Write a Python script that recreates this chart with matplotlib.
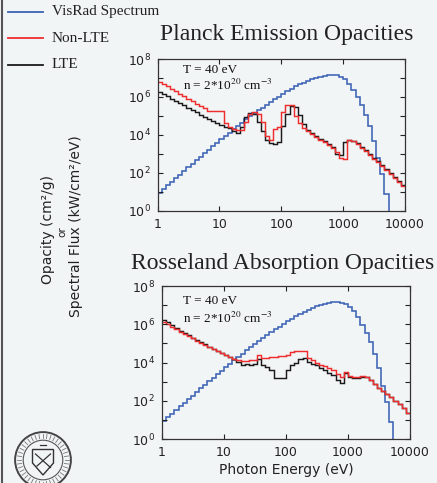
import numpy as np
import matplotlib
matplotlib.use("Agg")
import matplotlib.pyplot as plt
from matplotlib.patches import Circle, Polygon
from matplotlib.lines import Line2D
from matplotlib.ticker import FixedLocator, FuncFormatter, NullLocator

# ---------------- data (log10 values per energy bin, 15 bins per decade, 1 eV - 10 keV)
log_energy_edges = np.linspace(0.0, 4.0, 61)

# VisRad spectrum (log10 spectral flux)
visrad_log = [0.95, 1.14, 1.33, 1.52, 1.71, 1.90, 2.09, 2.28, 2.47, 2.66,
              2.85, 3.04, 3.22, 3.40, 3.58, 3.76, 3.94, 4.12, 4.30, 4.47,
              4.64, 4.81, 4.97, 5.13, 5.29, 5.44, 5.59, 5.74, 5.88, 6.02,
              6.16, 6.30, 6.43, 6.55, 6.66, 6.76, 6.85, 6.93, 7.00, 7.06,
              7.11, 7.14, 7.15, 7.13, 7.06, 6.92, 6.68, 6.36, 5.98, 5.55,
              5.05, 4.45, 3.70, 2.80, 1.95, 0.90, -1.0, -1.0, -1.0, -1.0]

# Planck emission opacities (log10 cm^2/g)
planck_nlte_log = [6.80, 6.68, 6.55, 6.42, 6.30, 6.17, 6.04, 5.91, 5.78, 5.65,
                   5.52, 5.40, 5.27, 5.24, 5.24, 5.24, 4.60, 4.40, 4.30, 4.25,
                   4.25, 4.70, 5.10, 5.20, 5.10, 4.70, 3.95, 3.75, 4.30, 4.40,
                   5.20, 5.60, 5.55, 5.00, 4.60, 4.35, 4.20, 4.05, 3.90, 3.75,
                   3.60, 3.45, 3.30, 3.10, 2.78, 2.75, 3.72, 3.70, 3.50, 3.30,
                   3.15, 2.95, 2.75, 2.55, 2.35, 2.15, 1.95, 1.75, 1.52, 1.28]
planck_lte_log = [6.27, 6.15, 6.03, 5.91, 5.79, 5.67, 5.55, 5.43, 5.31, 5.19,
                  5.07, 4.95, 4.83, 4.72, 4.60, 4.50, 4.42, 4.35, 4.20, 4.10,
                  4.40, 4.95, 5.15, 5.10, 4.70, 4.20, 3.75, 3.55, 3.50, 3.60,
                  4.45, 5.10, 5.50, 5.45, 5.05, 4.55, 4.25, 4.10, 3.95, 3.80,
                  3.65, 3.50, 3.35, 3.00, 2.95, 3.60, 3.75, 3.70, 3.55, 3.35,
                  3.20, 3.00, 2.80, 2.60, 2.40, 2.20, 1.97, 1.77, 1.56, 1.35]

# Rosseland absorption opacities (log10 cm^2/g)
rosseland_nlte_log = [6.12, 6.00, 5.87, 5.74, 5.62, 5.50, 5.38, 5.26, 5.14, 5.03,
                      4.92, 4.81, 4.70, 4.60, 4.50, 4.40, 4.30, 4.20, 4.12, 4.08,
                      4.10, 4.12, 4.14, 4.42, 4.23, 4.25, 4.28, 4.30, 4.33, 4.36,
                      4.40, 4.55, 4.58, 4.58, 4.58, 4.25, 4.12, 4.00, 3.90, 3.80,
                      3.70, 3.60, 3.40, 3.25, 3.50, 3.30, 3.25, 3.25, 3.30, 3.25,
                      3.10, 2.90, 2.65, 2.50, 2.35, 2.20, 2.00, 1.85, 1.65, 1.35]
rosseland_lte_log = [6.25, 6.10, 5.95, 5.80, 5.67, 5.55, 5.42, 5.30, 5.18, 5.06,
                     4.95, 4.83, 4.72, 4.61, 4.50, 4.40, 4.30, 4.20, 4.05, 3.90,
                     3.95, 3.90, 3.92, 4.18, 3.85, 3.75, 3.62, 3.20, 3.20, 3.20,
                     3.60, 3.85, 4.00, 4.20, 4.23, 4.05, 3.95, 3.85, 3.72, 3.60,
                     3.48, 3.35, 3.10, 2.95, 3.45, 3.25, 3.20, 3.20, 3.25, 3.25,
                     3.10, 2.90, 2.65, 2.50, 2.35, 2.20, 2.00, 1.85, 1.65, 1.35]

x_tick_values = [1, 10, 100, 1000, 10000]
x_tick_labels = ["1", "10", "100", "1000", "10000"]
y_decades = list(range(0, 9))

series_names = ["VisRad Spectrum", "Non-LTE", "LTE"]
panel_titles = ["Planck Emission Opacities", "Rosseland Absorption Opacities"]

# ---------------- style
W, H = 437, 483
BG = "#f2f5f6"
BLUE = "#3d63b5"
RED = "#ee2e2e"
BLACK = "#1a1a1a"
SERIF = ["Liberation Serif", "DejaVu Serif"]
SANS = ["DejaVu Sans"]

def fx(px):
    return px / W

def fy(py):
    return 1 - py / H

fig = plt.figure(figsize=(W / 100, H / 100), dpi=100)
fig.patch.set_facecolor(BG)

edges = 10 ** log_energy_edges

def style_axes(ax):
    ax.set_facecolor(BG)
    ax.set_xscale("log")
    ax.set_yscale("log")
    ax.set_xlim(1, 1e4)
    ax.set_ylim(1, 1e8)
    ax.xaxis.set_major_locator(FixedLocator(x_tick_values))
    ax.xaxis.set_major_formatter(FuncFormatter(
        lambda v, p: x_tick_labels[x_tick_values.index(int(round(v)))] if int(round(v)) in x_tick_values else ""))
    ax.xaxis.set_minor_locator(NullLocator())
    ax.yaxis.set_major_locator(FixedLocator([10.0 ** d for d in y_decades]))
    ax.yaxis.set_major_formatter(FuncFormatter(
        lambda v, p: (r"$10^{%d}$" % int(round(np.log10(v)))) if int(round(np.log10(v))) % 2 == 0 else ""))
    ax.yaxis.set_minor_locator(NullLocator())
    ax.tick_params(which="major", direction="in", length=3.5, width=0.8,
                   top=True, right=True, labelsize=9, colors="#222222", pad=5)
    for lab in ax.get_xticklabels() + ax.get_yticklabels():
        lab.set_fontfamily(SANS)
    for sp in ax.spines.values():
        sp.set_color("#333333")
        sp.set_linewidth(0.9)

ax1 = fig.add_axes([fx(157.5), fy(210.7), (405 - 157.5) / W, (210.7 - 59) / H])
ax2 = fig.add_axes([fx(162), fy(439.2), (410 - 162) / W, (439.2 - 286) / H])

for ax, nlte, lte in [(ax1, planck_nlte_log, planck_lte_log),
                      (ax2, rosseland_nlte_log, rosseland_lte_log)]:
    style_axes(ax)
    ax.stairs(10 ** np.array(visrad_log), edges, color=BLUE, lw=1.15, baseline=None)
    ax.stairs(10 ** np.array(lte), edges, color=BLACK, lw=1.05, baseline=None)
    ax.stairs(10 ** np.array(nlte), edges, color=RED, lw=1.05, baseline=None)

# in-panel annotations
for (ty, ny) in [(73, 90), (304, 323)]:
    fig.text(fx(183), fy(ty), "T = 40 eV", fontsize=9.5, family=SERIF,
             va="baseline", ha="left", color="#111111")
    fig.text(fx(183), fy(ny), r"n = 2*10$^{20}$ cm$^{-3}$", fontsize=9.5, family=SERIF,
             va="baseline", ha="left", color="#111111", math_fontfamily="stix")

# titles
fig.text(fx(160), fy(40), panel_titles[0], fontsize=17, family=SERIF,
         va="baseline", ha="left", color="#222222")
fig.text(fx(131), fy(269), panel_titles[1], fontsize=17, family=SERIF,
         va="baseline", ha="left", color="#222222")

# legend (manual, top-left)
for name, col, y in zip(series_names, [BLUE, RED, BLACK], [12, 38, 65]):
    fig.add_artist(Line2D([fx(8), fx(43)], [fy(y), fy(y)], color=col, lw=1.3))
    fig.text(fx(52), fy(y), name, fontsize=11, family=SERIF, va="center",
             ha="left", color="#222222")

# x label
fig.text(fx(286), fy(474), "Photon Energy (eV)", fontsize=10, family=SANS,
         va="baseline", ha="center", color="#222222")

# y label (stacked)
fig.text(fx(48), fy(230), "Opacity (cm\u00b2/g)", fontsize=10, family=SANS,
         rotation=90, va="center", ha="center", color="#222222")
fig.text(fx(62), fy(232), "or", fontsize=7.5, family=SANS,
         rotation=90, va="center", ha="center", color="#222222")
fig.text(fx(76), fy(226), "Spectral Flux (kW/cm\u00b2/eV)", fontsize=10, family=SANS,
         rotation=90, va="center", ha="center", color="#222222")

# scan edge on the left
fig.add_artist(Line2D([fx(1.5), fx(1.5)], [0, 1], color="#555555", lw=1.5))

# seal / logo bottom-left
axl = fig.add_axes([fx(13), fy(490), 60 / W, 60 / H])
axl.set_xlim(-1, 1)
axl.set_ylim(-1, 1)
axl.axis("off")
axl.add_patch(Circle((0, 0), 0.93, fill=False, ec="#444444", lw=1.4))
axl.add_patch(Circle((0, 0), 0.66, fill=False, ec="#555555", lw=0.8))
ang = np.linspace(0, 2 * np.pi, 40, endpoint=False)
for a in ang:
    axl.plot([0.72 * np.cos(a), 0.86 * np.cos(a)], [0.72 * np.sin(a), 0.86 * np.sin(a)],
             color="#777777", lw=0.6)
axl.add_patch(Polygon([[-0.35, 0.35], [0.35, 0.35], [0.35, -0.1], [0, -0.5], [-0.35, -0.1]],
                      closed=True, fill=False, ec="#333333", lw=1.0))
axl.plot([-0.25, 0.25], [0.2, -0.25], color="#333333", lw=0.9)
axl.plot([0.25, -0.2], [0.2, -0.2], color="#333333", lw=0.9)
axl.plot([-0.1, 0.1], [0.5, 0.5], color="#333333", lw=0.9)

fig.savefig("out.png", dpi=100, facecolor=BG)
